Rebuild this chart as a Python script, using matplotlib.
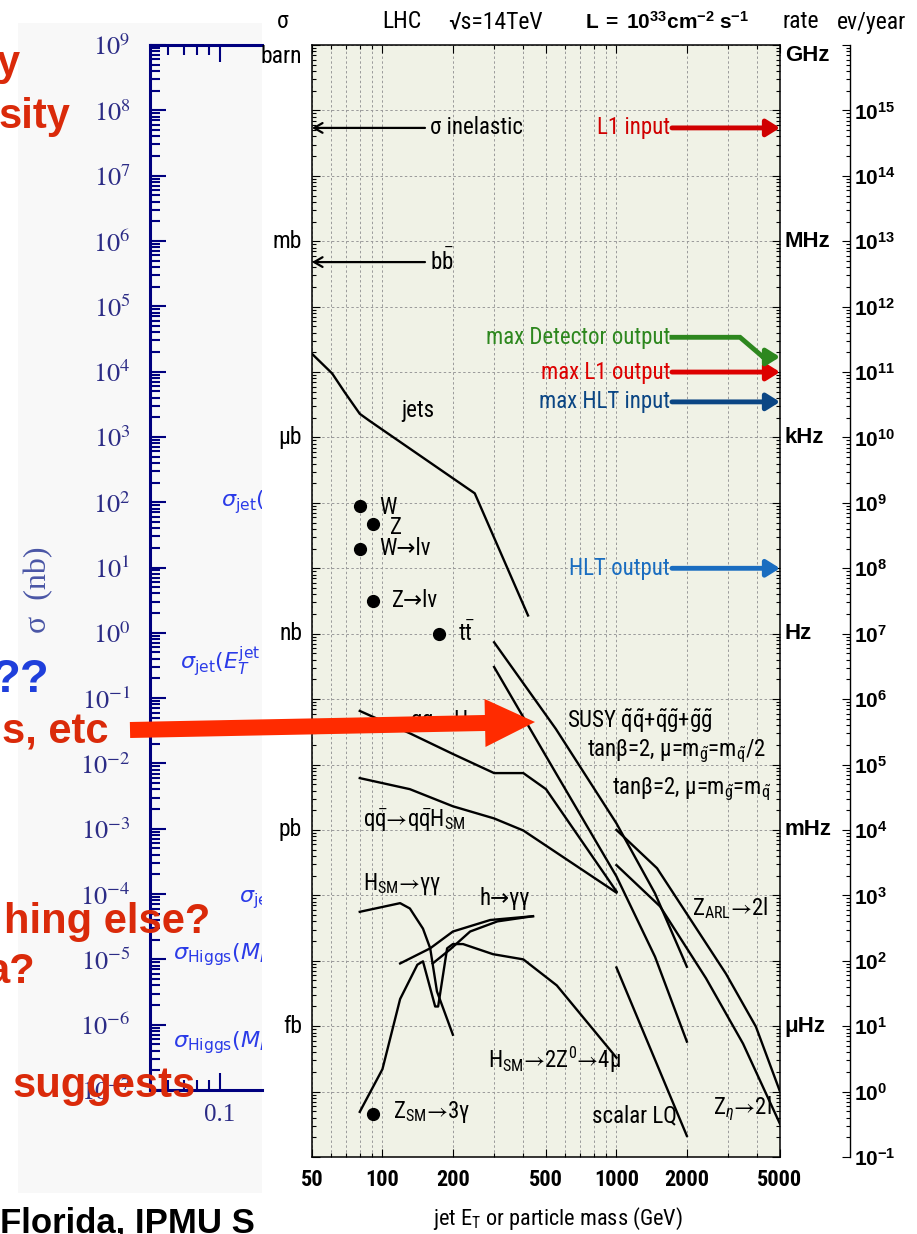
import os
import numpy as np
import matplotlib
matplotlib.use('Agg')
import matplotlib.pyplot as plt
from matplotlib import font_manager
from matplotlib.patches import FancyArrow
from matplotlib.ticker import LogLocator, NullFormatter

W, H = 917, 1234


def pick_narrow():
    ''' find a condensed sans font, returns (family, stretch, size factor) '''
    names = {f.name for f in font_manager.fontManager.ttflist}
    for n in ('Liberation Sans Narrow', 'Roboto Condensed', 'Noto Sans Condensed',
              'Open Sans Condensed', 'Arial Narrow', 'Nimbus Sans Narrow'):
        if n in names:
            return n, 'normal', 1.0
    for n in sorted(names):
        if 'Narrow' in n or 'Condensed' in n:
            return n, 'normal', 1.0
    for f in font_manager.fontManager.ttflist:
        if f.name == 'DejaVu Sans' and 'condensed' in os.path.basename(f.fname).lower():
            return 'DejaVu Sans', 'condensed', 0.92
    return 'Liberation Sans', 'normal', 0.86


NARROW, STRETCH, FS = pick_narrow()

plt.rcParams['font.family'] = [NARROW, 'DejaVu Sans']
plt.rcParams['font.stretch'] = STRETCH
plt.rcParams['mathtext.fontset'] = 'custom'
plt.rcParams['mathtext.rm'] = NARROW
plt.rcParams['mathtext.it'] = NARROW + ':italic'
plt.rcParams['mathtext.sf'] = NARROW
plt.rcParams['mathtext.bf'] = 'Liberation Sans:bold'
plt.rcParams['mathtext.fallback'] = 'stixsans'

# ---------------- data (E in GeV, sigma in nb; at L=1e33 1 nb == 1 Hz) ----------------
x_ticks = [50, 100, 200, 500, 1000, 2000, 5000]
xsec_units = ['barn', 'mb', 'μb', 'nb', 'pb', 'fb']
rate_units = ['GHz', 'MHz', 'kHz', 'Hz', 'mHz', 'μHz']
unit_values = [1e9, 1e6, 1e3, 1.0, 1e-3, 1e-6]
ev_exps = list(range(-1, 17))          # events / year axis
slide_exps = list(range(-7, 10))       # old plot behind, sigma (nb)

sigma_inel = 5.4e7
sigma_bb = 4.8e5

jets_E = [50, 61, 69, 80, 88, 248, 419]
jets_xs = [1.9e4, 9.5e3, 4.9e3, 2.3e3, 1.8e3, 140, 1.9]

points_E = [80.4, 91.2, 80.4, 91.2, 175, 91.2]        # W, Z, W->lv, Z->lv, ttbar, Z->3gamma
points_xs = [91, 48, 20, 3.2, 1.0, 4.6e-8]

ggH_E = [80, 131, 200, 300, 400, 500, 1000]
ggH_xs = [0.066, 0.030, 0.0145, 7.4e-3, 7.4e-3, 4.2e-3, 1.15e-4]
qqH_E = [80, 131, 200, 300, 400, 1000]
qqH_xs = [6.2e-3, 4.2e-3, 2.3e-3, 1.5e-3, 9.8e-4, 1.1e-4]

Hgg_E = [80, 119, 131, 149, 160, 171, 200]
Hgg_xs = [5.6e-5, 7.6e-5, 6.3e-5, 3.1e-5, 1.55e-5, 3.4e-6, 7.4e-7]
hgg1_E = [119, 160, 200, 289, 440]
hgg1_xs = [9.1e-6, 1.55e-5, 2.8e-5, 4.2e-5, 4.8e-5]
hgg2_E = [164, 195, 237, 310, 440]
hgg2_xs = [9.1e-6, 1.5e-5, 2.8e-5, 4.0e-5, 4.8e-5]
HZZ_E = [80, 100, 119, 141, 149, 168, 173, 189, 200, 221, 297, 400, 556, 1000]
HZZ_xs = [4.9e-8, 2.2e-7, 2.6e-6, 8.7e-6, 9.8e-6, 2.0e-6, 2.0e-6, 1.55e-5,
          1.8e-5, 1.8e-5, 1.26e-5, 1.05e-5, 4.2e-6, 3.3e-7]

susy1_E = [300, 551, 1000, 1462, 2000]
susy1_xs = [0.74, 0.035, 1.26e-3, 1.07e-4, 8.1e-6]
susy2_E = [300, 551, 1000, 1462, 2000]
susy2_xs = [0.31, 7.4e-3, 1.95e-4, 1.15e-5, 5.8e-7]
zarl_E = [1000, 1491, 2940, 3946, 5000]
zarl_xs = [1.0e-3, 2.6e-4, 6.3e-6, 9.8e-7, 1.0e-7]
zeta_E = [1000, 1535, 2414, 3476, 5000]
zeta_xs = [2.9e-4, 6.8e-5, 5.4e-6, 5.4e-7, 3.2e-8]
lq_E = [1000, 2000]
lq_xs = [7.9e-6, 2.1e-8]

rate_names = ['L1 input', 'max L1 output', 'max HLT input', 'HLT output']
rate_hz = [5.4e7, 1.0e4, 3.5e3, 10]
rate_colors = ['#D00000', '#DD0000', '#0B4684', '#1A6DC0']
det_name = 'max Detector output'
det_E = [1727, 3374, 4231]
det_hz = [3.4e4, 3.4e4, 1.7e4]
det_color = '#2D871E'

NAVY = '#00007F'
RED = '#DA2A0A'
ARROW = '$→$'     # unicode arrow inside math: no relation spacing


def rect(l, t, r, b):
    ''' figure rectangle from pixel edges '''
    return [l / W, 1 - b / H, (r - l) / W, (b - t) / H]


def draw_slide(fig):
    ''' the old slide sitting behind the chart '''
    panel = fig.add_axes(rect(18, 23, 262, 1193), zorder=0)
    panel.set_facecolor('#F8F8F8')
    panel.set_xticks([]); panel.set_yticks([])
    for s in panel.spines.values():
        s.set_visible(False)

    old = fig.add_axes(rect(150, 45, 262, 1090), zorder=1)
    old.patch.set_visible(False)
    old.set_xscale('log'); old.set_yscale('log')
    old.set_xlim(0.05, 0.152); old.set_ylim(1e-7, 1e9)
    old.spines['right'].set_visible(False)
    for s in ('left', 'top', 'bottom'):
        old.spines[s].set_color(NAVY)
        old.spines[s].set_linewidth(2.2)
    old.set_yticks([10.0 ** k for k in slide_exps],
                   labels=[r'$10^{%d}$' % k for k in slide_exps],
                   math_fontfamily='stix', fontsize=19, color='#2C2C86')
    old.yaxis.set_minor_locator(LogLocator(10, subs=np.arange(2, 10), numticks=40))
    old.yaxis.set_minor_formatter(NullFormatter())
    old.set_xticks([0.1], labels=['0.1'], family='Liberation Serif', fontsize=18, color='#2C2C86')
    old.set_xticks([0.06, 0.07, 0.08, 0.09], minor=True)
    old.xaxis.set_minor_formatter(NullFormatter())
    old.tick_params(which='both', direction='in', colors=NAVY, width=1.5, top=True)
    old.tick_params(axis='y', which='major', length=11.5, pad=14)
    old.tick_params(axis='y', which='minor', length=7)
    old.tick_params(axis='x', which='major', length=12, pad=10)
    old.tick_params(axis='x', which='minor', length=7)
    old.tick_params(labelcolor='#2C2C86')

    lo = fig.add_axes([0, 0, 262 / W, 1], zorder=3)
    lo.set_xlim(0, 262); lo.set_ylim(H, 0); lo.axis('off')
    lo.text(39, 590, 'σ  (nb)', rotation=90, family='Liberation Serif', color='#4A56A6',
            fontsize=23, ha='center', va='center')
    blue = dict(color='#2B3BE8', fontsize=16, ha='left', va='center',
                math_fontfamily='dejavusans', clip_on=True)
    lo.text(221, 500, r'$\sigma_{\rm jet}(E_T^{\rm jet}$', **blue)
    lo.text(180, 662, r'$\sigma_{\rm jet}(E_T^{\rm jet}$', **blue)
    lo.text(239, 900, r'$\sigma_{\rm jet}$', **blue)
    lo.text(173, 955, r'$\sigma_{\rm Higgs}(M_H$', **blue)
    lo.text(173, 1043, r'$\sigma_{\rm Higgs}(M_H$', **blue)

    big = dict(family='Liberation Sans', stretch='normal', fontweight='bold', fontsize=30,
               color=RED, va='baseline', clip_on=True)
    lo.text(20, 75, 'y', ha='right', **big)
    lo.text(70, 128, 'sity', ha='right', **big)
    lo.text(50, 692, '??', ha='right', **dict(big, color='#1F3FDB', fontsize=34))
    lo.text(108, 743, 's, etc', ha='right', **big)
    lo.text(210, 933, 'hing else?', ha='right', **big)
    lo.text(35, 983, 'a?', ha='right', **big)
    lo.text(13, 1097, 'suggests', ha='left', **big)
    lo.text(0, 1232, 'Florida, IPMU S', ha='left', **dict(big, color='black', fontsize=25))


def draw_main(fig):
    fs = 16.5 * FS
    ax = fig.add_axes(rect(312, 45, 780, 1157), zorder=4)
    ax.set_xscale('log'); ax.set_yscale('log')
    ax.set_xlim(50, 5000); ax.set_ylim(1e-8, 1e9)
    ax.set_facecolor('#F0F2E6')
    ax.set_xticks(x_ticks, labels=[str(v) for v in x_ticks], fontweight='bold', fontsize=16 * FS)
    ax.xaxis.set_minor_locator(LogLocator(10, subs=np.arange(1, 10), numticks=20))
    ax.xaxis.set_minor_formatter(NullFormatter())
    ax.yaxis.set_major_locator(LogLocator(10, numticks=30))
    ax.yaxis.set_minor_locator(LogLocator(10, subs=np.arange(2, 10), numticks=30))
    ax.yaxis.set_major_formatter(NullFormatter())
    ax.yaxis.set_minor_formatter(NullFormatter())
    ax.tick_params(which='both', direction='in', top=True, right=True, width=0.8)
    ax.tick_params(which='major', length=6, pad=9)
    ax.tick_params(which='minor', length=3)
    for s in ax.spines.values():
        s.set_linewidth(1.1)
    grid = dict(color='#9A9A9A', lw=0.7, ls=(0, (2.5, 2.5)))
    ax.grid(True, which='both', axis='x', **grid)
    ax.grid(True, which='major', axis='y', **grid)
    ax.set_axisbelow(True)
    ax.set_xlabel(r'jet E$_{\rm T}$ or particle mass (GeV)', fontsize=16 * FS, labelpad=10, x=0.526)

    # unit labels either side
    ytr = ax.get_yaxis_transform()
    for v, s in zip(unit_values, xsec_units):
        ax.text(-0.021, v, s, transform=ytr, ha='right', va='top' if v == 1e9 else 'center',
                fontsize=17 * FS)
    for v, s in zip(unit_values, rate_units):
        ax.text(1.01, v, s, transform=ytr, ha='left', va='top' if v == 1e9 else 'center',
                fontsize=16, family='Liberation Sans', stretch='normal', fontweight='bold')

    # curves
    curves = [(jets_E, jets_xs), (ggH_E, ggH_xs), (qqH_E, qqH_xs), (Hgg_E, Hgg_xs),
              (hgg1_E, hgg1_xs), (hgg2_E, hgg2_xs), (HZZ_E, HZZ_xs),
              (susy1_E, susy1_xs), (susy2_E, susy2_xs), (zarl_E, zarl_xs),
              (zeta_E, zeta_xs), (lq_E, lq_xs)]
    for E, xs in curves:
        ax.plot(E, xs, color='k', lw=1.7)
    ax.plot(points_E, points_xs, 'o', color='k', ms=8.5)

    # sigma inelastic / bbbar arrows
    for xs in (sigma_inel, sigma_bb):
        ax.annotate('', xy=(50, xs), xytext=(152, xs), annotation_clip=False,
                    arrowprops=dict(arrowstyle='->,head_length=0.6,head_width=0.35', lw=1.6,
                                    color='k', shrinkA=0, shrinkB=0, mutation_scale=10))
    lab = dict(fontsize=fs, va='center', ha='left')
    ax.text(160, sigma_inel, 'σ inelastic', **lab)
    ax.text(160, sigma_bb, r'b$\bar{\rm b}$', **lab)
    ax.text(141, 2.6e3, 'jets', **dict(lab, ha='center'))
    ax.text(97, 85, 'W', **lab)
    ax.text(108, 42, 'Z', **lab)
    ax.text(97, 20, 'W→lν', **lab)
    ax.text(110, 3.2, 'Z→lν', **lab)
    ax.text(210, 1.0, r't$\bar{\rm t}$', **lab)
    ax.text(131, 0.046, r'gg' + ARROW + r'H$_{\rm SM}$', **lab)
    ax.text(82.6, 1.35e-3, r'q$\bar{\rm q}$' + ARROW + r'q$\bar{\rm q}$H$_{\rm SM}$', **lab)
    ax.text(82.6, 1.5e-4, r'H$_{\rm SM}$' + ARROW + 'γγ', **lab)
    ax.text(261, 8.9e-5, 'h→γγ', **lab)
    ax.text(283, 3.1e-7, r'H$_{\rm SM}$' + ARROW + r'2Z$^{0}$' + ARROW + '4μ', **lab)
    ax.text(111, 4.9e-8, r'Z$_{\rm SM}$' + ARROW + '3γ', **lab)
    ax.text(1189, 4.3e-8, 'scalar LQ', **dict(lab, ha='center'))
    ax.text(2587, 5.5e-8, r'Z$_{\eta}$' + ARROW + '2l', **lab)
    ax.text(2104, 6.5e-5, r'Z$_{\rm ARL}$' + ARROW + '2l', **lab)
    ax.text(615, 0.046, r'SUSY $\tilde{\rm q}\tilde{\rm q}$+$\tilde{\rm q}\tilde{\rm g}$+$\tilde{\rm g}\tilde{\rm g}$', **lab)
    ax.text(749, 0.016, r'tanβ=2, μ=m$_{\tilde{\rm g}}$=m$_{\tilde{\rm q}}$/2', **lab)
    ax.text(957, 4.2e-3, r'tanβ=2, μ=m$_{\tilde{\rm g}}$=m$_{\tilde{\rm q}}$', **lab)

    # trigger rate arrows
    head = '-|>,head_length=0.8,head_width=0.5'
    for name, hz, c in zip(rate_names, rate_hz, rate_colors):
        ax.annotate('', xy=(5000, hz), xytext=(1727, hz), annotation_clip=False,
                    arrowprops=dict(arrowstyle=head, lw=3.5, color=c, shrinkA=0, shrinkB=0,
                                    mutation_scale=10))
        ax.text(1694, hz, name, color=c, fontsize=fs, ha='right', va='center')
    ax.plot(det_E, det_hz, color=det_color, lw=3.5, solid_joinstyle='miter')
    ax.annotate('', xy=(5000, det_hz[-1]), xytext=(det_E[-1], det_hz[-1]), annotation_clip=False,
                arrowprops=dict(arrowstyle=head, lw=3.5, color=det_color, shrinkA=0, shrinkB=0,
                                mutation_scale=10))
    ax.text(1694, det_hz[0], det_name, color=det_color, fontsize=fs, ha='right', va='center')

    # events / year axis
    axr = fig.add_axes(rect(840, 45, 850, 1157), zorder=4)
    axr.set_yscale('log'); axr.set_ylim(1e-1, 1e16)
    axr.patch.set_visible(False)
    for s in ('left', 'top', 'bottom'):
        axr.spines[s].set_visible(False)
    axr.spines['right'].set_linewidth(1.0)
    axr.set_xticks([])
    axr.yaxis.tick_right()
    axr.set_yticks([10.0 ** k for k in ev_exps],
                   labels=[r'$\mathbf{10^{%d}}$' % k if k < 16 else '' for k in ev_exps],
                   fontsize=15)
    axr.yaxis.set_minor_locator(LogLocator(10, subs=np.arange(2, 10), numticks=30))
    axr.yaxis.set_minor_formatter(NullFormatter())
    axr.tick_params(which='both', direction='in', width=0.8, pad=3)
    axr.tick_params(which='major', length=6)
    axr.tick_params(which='minor', length=3)


def draw_overlay(fig):
    fg = fig.add_axes([0, 0, 1, 1], zorder=10)
    fg.set_xlim(0, W); fg.set_ylim(H, 0); fg.axis('off')
    top = dict(fontsize=17 * FS, ha='center', va='center')
    fg.text(283, 22, 'σ', **top)
    fg.text(402, 22, 'LHC', **top)
    fg.text(495, 22, '√s=14TeV', **top)
    fg.text(801, 22, 'rate', **top)
    fg.text(872, 22, 'ev/year', **top)
    fg.text(667, 22, r'$\mathbf{L\ =\ 10^{33}cm^{-2}\ s^{-1}}$', **dict(top, fontsize=15))
    fg.add_patch(FancyArrow(130, 730, 405, -8, width=16, head_width=48, head_length=50,
                            length_includes_head=True, color='#FF2B00', lw=0))


def main():
    fig = plt.figure(figsize=(W / 100, H / 100), dpi=100)
    fig.patch.set_facecolor('white')
    draw_slide(fig)
    draw_main(fig)
    draw_overlay(fig)
    fig.savefig('out.png', dpi=100)


if __name__ == '__main__':
    main()
